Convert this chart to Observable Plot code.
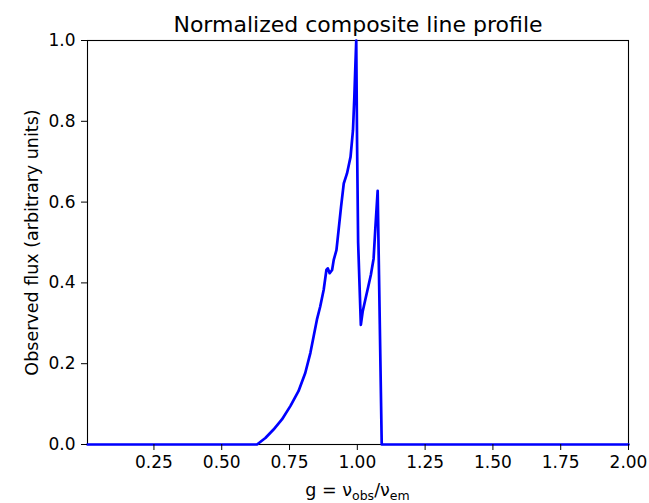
<!DOCTYPE html>
<html>
<head>
<meta charset="utf-8">
<script src="https://cdn.jsdelivr.net/npm/d3@7"></script>
<script src="https://cdn.jsdelivr.net/npm/@observablehq/plot@0.6"></script>
<style>
  html, body { margin: 0; padding: 0; background: white; }
  svg { display: block; }
</style>
</head>
<body>
<div id="chart"></div>
<script>
const titleText = "Normalized composite line profile";
const yLabelText = "Observed flux (arbitrary units)";
const xTicks = [0.25, 0.5, 0.75, 1.0, 1.25, 1.5, 1.75, 2.0];
const yTicks = [0, 0.2, 0.4, 0.6, 0.8, 1.0];

const gValues = [
  0.005, 0.630, 0.661, 0.691, 0.722, 0.753, 0.783, 0.808, 0.827, 0.839,
  0.851, 0.863, 0.876, 0.886, 0.891, 0.898, 0.907, 0.913, 0.923, 0.927,
  0.931, 0.940, 0.950, 0.962, 0.970, 0.975, 0.984, 0.989, 0.993, 0.996,
  0.999, 1.003, 1.013, 1.020, 1.030, 1.040, 1.050, 1.060, 1.066, 1.075,
  1.090, 2.000
];
const fluxValues = [
  0.000, 0.000, 0.016, 0.037, 0.062, 0.095, 0.132, 0.177, 0.227, 0.268,
  0.309, 0.341, 0.383, 0.432, 0.436, 0.424, 0.432, 0.457, 0.481, 0.506,
  0.531, 0.588, 0.646, 0.671, 0.696, 0.712, 0.778, 0.860, 0.942, 1.000,
  0.750, 0.500, 0.296, 0.330, 0.360, 0.390, 0.420, 0.460, 0.530, 0.628,
  0.000, 0.000
];

const data = gValues.map((g, i) => ({g, f: fluxValues[i]}));

const plot = Plot.plot({
  width: 649,
  height: 503,
  marginTop: 40,
  marginLeft: 87,
  marginRight: 21,
  marginBottom: 59,
  x: {domain: [0.005, 2.0]},
  y: {domain: [0, 1]},
  style: {fontFamily: "DejaVu Sans", fontSize: "17px", color: "black", background: "white"},
  marks: [
    Plot.frame({stroke: "black", strokeWidth: 1.1}),
    Plot.line(data, {x: "g", y: "f", stroke: "#0000ff", strokeWidth: 2.7}),
    Plot.axisX({ticks: xTicks, tickFormat: d => d.toFixed(2), tickSize: 6, tickPadding: 5, label: null, fontSize: 17}),
    Plot.axisY({ticks: yTicks, tickFormat: d => d.toFixed(1), tickSize: 6, tickPadding: 6, label: null, fontSize: 17}),
    Plot.text([titleText], {frameAnchor: "top", dy: -24, fontSize: 22}),
    Plot.text([yLabelText], {frameAnchor: "left", textAnchor: "middle", rotate: -90, dx: -55, fontSize: 17.5})
  ]
});

document.getElementById("chart").appendChild(plot);

// x-axis label with subscripts
const sx = plot.scale("x");
const cx = (sx.range[0] + sx.range[1]) / 2;
const svg = d3.select(plot);
const lab = svg.append("text")
  .attr("x", cx)
  .attr("y", 496)
  .attr("text-anchor", "middle")
  .attr("font-family", "DejaVu Sans")
  .attr("font-size", 17.5)
  .attr("fill", "black");
lab.append("tspan").text("g = ν");
lab.append("tspan").attr("font-size", 12.5).attr("dy", 3.5).text("obs");
lab.append("tspan").attr("dy", -3.5).text("/ν");
lab.append("tspan").attr("font-size", 12.5).attr("dy", 3.5).text("em");
</script>
</body>
</html>
